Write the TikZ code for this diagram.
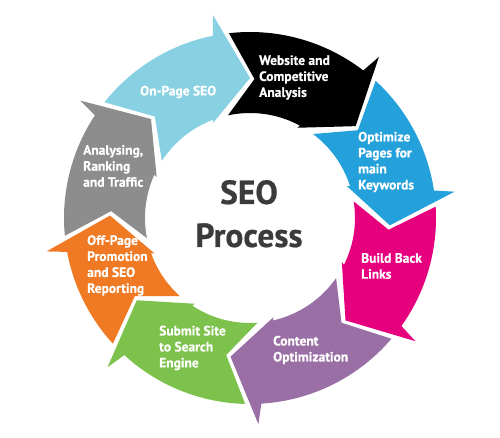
\documentclass[tikz,border=0pt]{standalone}
\usepackage{fontspec}
\setmainfont{PT Sans}[BoldFeatures={FakeBold=0.6}]
\definecolor{cCyan}{HTML}{88D1E2}
\definecolor{cBlack}{HTML}{000000}
\definecolor{cBlue}{HTML}{24A0DA}
\definecolor{cPink}{HTML}{E6007E}
\definecolor{cPurple}{HTML}{9A6FA6}
\definecolor{cGreen}{HTML}{7DC24C}
\definecolor{cOrange}{HTML}{F07A23}
\definecolor{cGray}{HTML}{8D8D8D}
\definecolor{cText}{HTML}{3B3B3B}
% #1 colour, #2 tail rotation, #3 head rotation (clockwise, degrees)
\newcommand\seoarrow[3]{%
  \fill[#1] ({96.5-#2}:186) arc[start angle={96.5-#2}, end angle={101.5-#3}, radius=186]
    -- ({100.33-#3}:206.3) -- ({90-#3}:140) -- ({111.28-#3}:101.95) -- ({110.6-#3}:105)
    arc[start angle={110.6-#3}, end angle={102.1-#2}, radius=105]
    -- ({88.15-#2}:139.07) -- cycle;}
\begin{document}
\begin{tikzpicture}[x=1pt,y=1pt,
  lbl/.style={text=white, font=\bfseries\fontsize{13.5}{16}\selectfont, align=left, anchor=west, inner sep=0pt},
  ctr/.style={text=cText, font=\bfseries\fontsize{33.5}{40}\selectfont, anchor=base, inner sep=0pt}]
\useasboundingbox (-250,-220) rectangle (250,218);
\seoarrow{cCyan}{-45}{0}
\seoarrow{cBlack}{0}{49}
\seoarrow{cBlue}{49}{93}
\seoarrow{cPink}{93}{137}
\seoarrow{cPurple}{137}{188}
\seoarrow{cGreen}{188}{234}
\seoarrow{cOrange}{234}{271}
\seoarrow{cGray}{271}{315}
\node[lbl] (onpage) at (-110,126) {On-Page SEO};
\node[lbl] (website) at (9,140.5) {Website and\\Competitive\\Analysis};
\node[lbl] (optimize) at (108,56) {Optimize\\Pages for\\main\\Keywords};
\node[lbl] (backlinks) at (111,-48) {Build Back\\Links};
\node[lbl] (content) at (23,-132) {Content\\Optimization};
\node[lbl] (submit) at (-91,-130) {Submit Site\\to Search\\Engine};
\node[lbl] (offpage) at (-163,-47.5) {Off-Page\\Promotion\\and SEO\\Reporting};
\node[lbl] (analysing) at (-167,52) {Analysing,\\Ranking\\and Traffic};
\node[ctr] (seo) at (-1,14) {SEO};
\node[ctr] (process) at (-1,-29) {Process};
\end{tikzpicture}
\end{document}
